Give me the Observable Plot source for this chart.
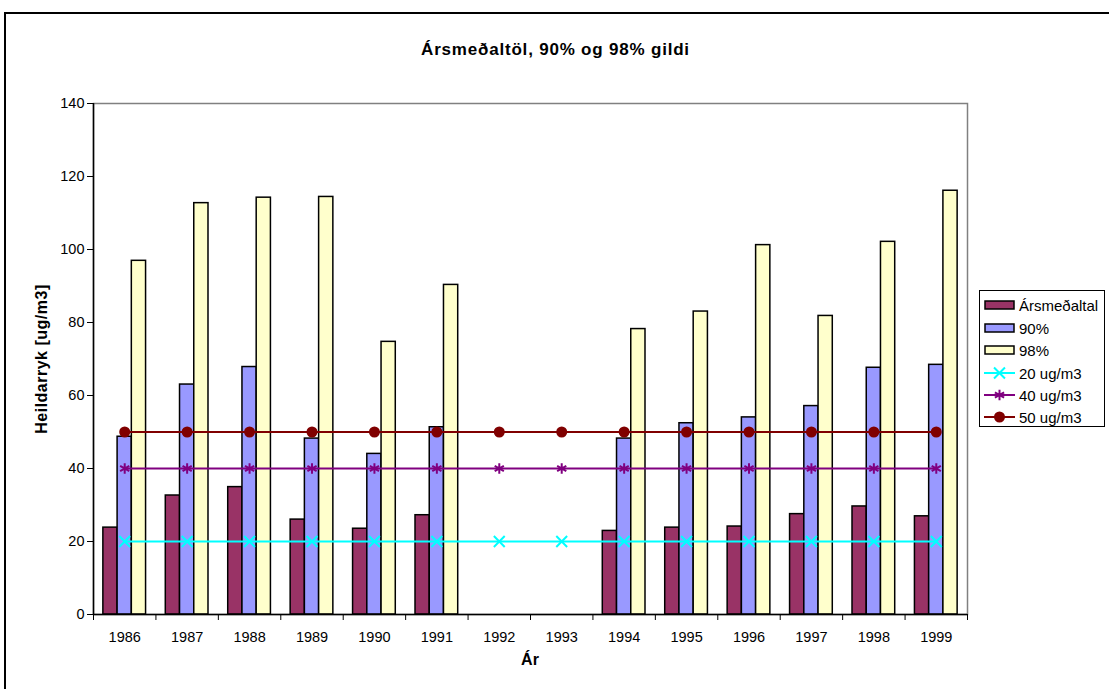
<!DOCTYPE html>
<html>
<head>
<meta charset="utf-8">
<script src="https://cdn.jsdelivr.net/npm/d3@7"></script>
<script src="https://cdn.jsdelivr.net/npm/@observablehq/plot@0.6"></script>
<style>
  html, body { margin: 0; padding: 0; background: #fff; }
  #wrap { position: relative; width: 1109px; height: 689px; overflow: hidden; font-family: "Liberation Sans", Arial, sans-serif; }
  #frame { position: absolute; left: 4px; top: 12px; width: 1130px; height: 720px; border: 2.5px solid #000; box-sizing: border-box; }
  #title { position: absolute; left: 0; width: 1111px; top: 40px; text-align: center; font-weight: bold; font-size: 17px; letter-spacing: 0.8px; }
  #xlabel { position: absolute; left: 480px; width: 100px; top: 651px; text-align: center; font-weight: bold; font-size: 16px; }
  #ylabel { position: absolute; left: 42px; top: 359px; transform: translate(-50%, -50%) rotate(-90deg); white-space: nowrap; font-weight: bold; font-size: 16px; letter-spacing: 0.5px; }
  #legend { position: absolute; left: 979px; top: 290px; width: 126px; height: 137px; border: 1px solid #000; box-sizing: border-box; background: #fff; font-size: 15px; }
  #legend .row { position: absolute; left: 4px; height: 20px; display: flex; align-items: center; }
  #legend svg { margin-right: 3px; }
  #chart { position: absolute; left: 0; top: 0; }
</style>
</head>
<body>
<div id="wrap">
  <div id="frame"></div>
  <div id="chart"></div>
  <div id="title"></div>
  <div id="xlabel"></div>
  <div id="ylabel"></div>
  <div id="legend"></div>
</div>
<script>
// ---- data ----
const titleText = "Ársmeðaltöl, 90% og 98% gildi";
const xTitle = "Ár";
const yTitle = "Heildarryk [ug/m3]";
const years = [1986, 1987, 1988, 1989, 1990, 1991, 1992, 1993, 1994, 1995, 1996, 1997, 1998, 1999];
const yTicks = [0, 20, 40, 60, 80, 100, 120, 140];
const barSeries = ["Ársmeðaltal", "90%", "98%"];
const arsmedaltal = [23.8, 32.6, 34.9, 26.0, 23.5, 27.2, null, null, 22.9, 23.8, 24.1, 27.5, 29.6, 26.9];
const p90 = [48.7, 63.0, 67.8, 48.2, 44.0, 51.3, null, null, 48.2, 52.4, 54.0, 57.1, 67.6, 68.4];
const p98 = [96.9, 112.7, 114.2, 114.4, 74.7, 90.3, null, null, 78.2, 83.0, 101.2, 81.8, 102.1, 116.1];
const lineSeries = ["20 ug/m3", "40 ug/m3", "50 ug/m3"];
const limit20 = [20, 20, 20, 20, 20, 20, 20, 20, 20, 20, 20, 20, 20, 20];
const limit40 = [40, 40, 40, 40, 40, 40, 40, 40, 40, 40, 40, 40, 40, 40];
const limit50 = [50, 50, 50, 50, 50, 50, 50, 50, 50, 50, 50, 50, 50, 50];

// ---- styles ----
const colors = {
  "Ársmeðaltal": "#993366", "90%": "#9999FF", "98%": "#FFFFCC",
  "20 ug/m3": "#00FFFF", "40 ug/m3": "#800080", "50 ug/m3": "#800000"
};
const symbols = { "20 ug/m3": "times", "40 ug/m3": "asterisk", "50 ug/m3": "circle" };
const barW = 0.228;               // bar width as fraction of a year band
const barOffset = { "Ársmeðaltal": -barW, "90%": 0, "98%": barW };

// ---- tables ----
const barValues = [arsmedaltal, p90, p98];
const bars = [];
barSeries.forEach((s, i) => years.forEach((y, j) => {
  if (barValues[i][j] != null) bars.push({ year: y, series: s, value: barValues[i][j] });
}));
const lineValues = [limit20, limit40, limit50];
const lines = [];
lineSeries.forEach((s, i) => years.forEach((y, j) => lines.push({ year: y, series: s, value: lineValues[i][j] })));

const allSeries = [...barSeries, ...lineSeries];
const x0 = years[0] - 0.5, x1 = years[years.length - 1] + 0.5;
const bounds = d3.range(x0, x1 + 0.001, 1);

const chart = Plot.plot({
  width: 1109,
  height: 689,
  marginLeft: 93,
  marginRight: 142,
  marginTop: 103,
  marginBottom: 75,
  style: { fontFamily: "'Liberation Sans', Arial, sans-serif", fontSize: "14.5px", background: "transparent", color: "#000" },
  x: { type: "linear", domain: [x0, x1], axis: null },
  y: { domain: [0, 140], axis: null },
  color: { domain: allSeries, range: allSeries.map(s => colors[s]) },
  symbol: { type: "identity" },
  marks: [
    Plot.frame({ stroke: "#808080", strokeWidth: 1.5 }),
    Plot.rectY(bars, {
      x1: d => d.year + barOffset[d.series] - barW / 2,
      x2: d => d.year + barOffset[d.series] + barW / 2,
      y: "value",
      fill: "series",
      stroke: "#000",
      strokeWidth: 1.5
    }),
    Plot.ruleY([0], { stroke: "#000", strokeWidth: 1.5 }),
    Plot.ruleX([x0], { stroke: "#000", strokeWidth: 1.5 }),
    Plot.axisY({ ticks: yTicks, tickSize: 6, tickPadding: 3, label: null, tickFormat: d => String(d), fontSize: 14.5 }),
    Plot.axisX({ ticks: bounds, tickSize: 6, tickFormat: () => "", label: null }),
    Plot.axisX({ ticks: years, tickSize: 0, tickPadding: 17, tickFormat: d => String(d), label: null, fontSize: 14.5 }),
    Plot.lineY(lines, { x: "year", y: "value", z: "series", stroke: "series", strokeWidth: 2 }),
    ...lineSeries.map(s => Plot.dot(lines.filter(d => d.series === s), {
      x: "year", y: "value",
      symbol: () => symbols[s],
      r: s === "50 ug/m3" ? 4.5 : 5,
      fill: s === "50 ug/m3" ? colors[s] : "none",
      stroke: colors[s],
      strokeWidth: 2
    }))
  ]
});
document.getElementById("chart").appendChild(chart);

document.getElementById("title").textContent = titleText;
document.getElementById("xlabel").textContent = xTitle;
document.getElementById("ylabel").textContent = yTitle;

// ---- legend ----
const legend = document.getElementById("legend");
const rowTop = [4, 27, 49, 72, 94, 116];
allSeries.forEach((s, i) => {
  const row = document.createElement("div");
  row.className = "row";
  row.style.top = rowTop[i] + "px";
  const ns = "http://www.w3.org/2000/svg";
  const svg = document.createElementNS(ns, "svg");
  svg.setAttribute("width", 32); svg.setAttribute("height", 14);
  if (barSeries.includes(s)) {
    const r = document.createElementNS(ns, "rect");
    r.setAttribute("x", 1); r.setAttribute("y", 3); r.setAttribute("width", 29); r.setAttribute("height", 8);
    r.setAttribute("fill", colors[s]); r.setAttribute("stroke", "#000"); r.setAttribute("stroke-width", 1.5);
    svg.appendChild(r);
  } else {
    const l = document.createElementNS(ns, "line");
    l.setAttribute("x1", 0); l.setAttribute("x2", 31); l.setAttribute("y1", 7); l.setAttribute("y2", 7);
    l.setAttribute("stroke", colors[s]); l.setAttribute("stroke-width", 2);
    svg.appendChild(l);
    const sym = { times: d3.symbolTimes, asterisk: d3.symbolAsterisk, circle: d3.symbolCircle }[symbols[s]];
    const p = document.createElementNS(ns, "path");
    p.setAttribute("d", d3.symbol(sym, s === "50 ug/m3" ? 64 : 80)());
    p.setAttribute("transform", "translate(15.5,7)");
    p.setAttribute("fill", s === "50 ug/m3" ? colors[s] : "none");
    p.setAttribute("stroke", colors[s]); p.setAttribute("stroke-width", 2);
    svg.appendChild(p);
  }
  row.appendChild(svg);
  const t = document.createElement("span");
  t.textContent = s;
  row.appendChild(t);
  legend.appendChild(row);
});
</script>
</body>
</html>
